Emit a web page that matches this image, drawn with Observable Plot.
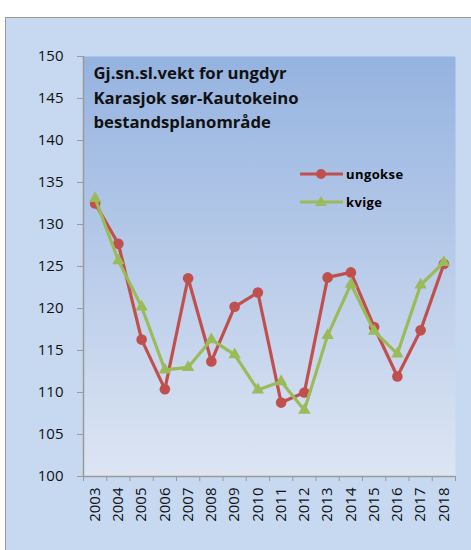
<!DOCTYPE html>
<html>
<head>
<meta charset="utf-8">
<script src="https://cdn.jsdelivr.net/npm/d3@7"></script>
<script src="https://cdn.jsdelivr.net/npm/@observablehq/plot@0.6"></script>
<style>
  html, body { margin: 0; padding: 0; background: #fff; }
  #wrap { position: relative; width: 471px; height: 550px; overflow: hidden; }
  #box { position: absolute; left: 5px; top: 17px; width: 480px; height: 560px;
         background: #c6d9f1; border: 1px solid #9a9a9a; box-sizing: border-box; }
  #chart { position: absolute; left: 0; top: 0; }
  #legend { position: absolute; left: 300px; top: 160px; font-family: "Open Sans", sans-serif;
            font-weight: bold; font-size: 13px; color: #000; letter-spacing: 0.4px; }
  #legend .row { display: flex; align-items: center; height: 28px; }
  #legend svg { margin-right: 3px; }
</style>
</head>
<body>
<div id="wrap">
  <div id="box"></div>
  <div id="chart"></div>
  <div id="legend"></div>
</div>
<script>
const years = [2003, 2004, 2005, 2006, 2007, 2008, 2009, 2010, 2011, 2012, 2013, 2014, 2015, 2016, 2017, 2018];
const ungokse = [132.5, 127.7, 116.3, 110.4, 123.6, 113.7, 120.2, 121.9, 108.8, 110.0, 123.7, 124.3, 117.8, 111.9, 117.4, 125.3];
const kvige = [133.1, 125.7, 120.2, 112.7, 113.0, 116.3, 114.5, 110.3, 111.3, 107.9, 116.8, 122.9, 117.3, 114.6, 122.8, 125.5];
const yTicks = [100, 105, 110, 115, 120, 125, 130, 135, 140, 145, 150];
const seriesNames = ["ungokse", "kvige"];
const titleText = "Gj.sn.sl.vekt for ungdyr\nKarasjok sør-Kautokeino\nbestandsplanområde";

const red = "#c0504d";
const green = "#9bbb59";
const axisGray = "#9a9a9a";

const rowsU = years.map((y, i) => ({year: y, value: ungokse[i]}));
const rowsK = years.map((y, i) => ({year: y, value: kvige[i]}));
const boundaries = [years[0] - 0.5, ...years.map(y => y + 0.5)];

const defs = () => {
  const ns = "http://www.w3.org/2000/svg";
  const d = document.createElementNS(ns, "defs");
  d.innerHTML = `<linearGradient id="bgGrad" x1="0" y1="0" x2="0" y2="1">
      <stop offset="0" stop-color="#95b3e0"/>
      <stop offset="1" stop-color="#dde5f3"/>
    </linearGradient>`;
  return d;
};

const chart = Plot.plot({
  width: 471,
  height: 550,
  marginLeft: 83,
  marginRight: 16,
  marginTop: 56,
  marginBottom: 74,
  style: {background: "transparent", fontFamily: "'Open Sans', sans-serif", color: "#111"},
  x: {type: "linear", domain: [years[0] - 0.5, years[years.length - 1] + 0.5]},
  y: {domain: [100, 150]},
  marks: [
    defs,
    Plot.frame({fill: "url(#bgGrad)", stroke: "none"}),
    Plot.axisY({ticks: yTicks, tickSize: 6, stroke: axisGray, tickPadding: 14, fontSize: 15, label: null, fill: "#111"}),
    Plot.axisX({ticks: boundaries, tickSize: 5, stroke: axisGray, tickFormat: () => "", label: null}),
    Plot.axisX({ticks: years, tickSize: 0, tickRotate: -90, tickPadding: 11, fontSize: 15, tickFormat: d => String(d), label: null, fill: "#111"}),
    Plot.ruleX([years[0] - 0.5], {stroke: axisGray, strokeWidth: 1.5}),
    Plot.ruleY([100], {stroke: axisGray, strokeWidth: 1.5}),
    Plot.text([titleText], {frameAnchor: "top-left", dx: 10, dy: 5, lineHeight: 1.48, fontSize: 16.7, fontWeight: "bold", textAnchor: "start", fill: "#111"}),
    Plot.line(rowsU, {x: "year", y: "value", stroke: red, strokeWidth: 3.2}),
    Plot.dot(rowsU, {x: "year", y: "value", r: 5.3, fill: red, stroke: "none"}),
    Plot.line(rowsK, {x: "year", y: "value", stroke: green, strokeWidth: 3.2}),
    Plot.dot(rowsK, {x: "year", y: "value", r: 4.6, symbol: "triangle", fill: green, stroke: "none"})
  ]
});
document.getElementById("chart").appendChild(chart);

// legend
const legend = document.getElementById("legend");
const swatch = (name, color) => {
  const row = document.createElement("div");
  row.className = "row";
  const marker = name === "ungokse"
    ? `<circle cx="21" cy="8" r="5" fill="${color}"/>`
    : `<path d="M21,2 L27,12 L15,12 Z" fill="${color}"/>`;
  row.innerHTML = `<svg width="43" height="16"><line x1="0" y1="8" x2="43" y2="8" stroke="${color}" stroke-width="3.2"/>${marker}</svg><span>${name}</span>`;
  return row;
};
legend.appendChild(swatch(seriesNames[0], red));
legend.appendChild(swatch(seriesNames[1], green));
</script>
</body>
</html>
